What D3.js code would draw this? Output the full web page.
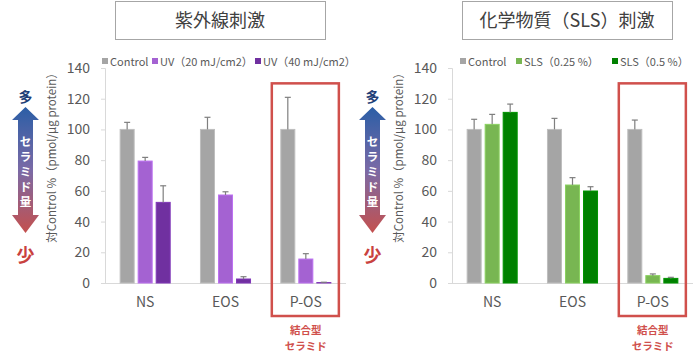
<!DOCTYPE html>
<html>
<head>
<meta charset="utf-8">
<script src="https://cdn.jsdelivr.net/npm/d3@7"></script>
<style>
body{margin:0;background:#fff;}
svg{display:block;font-family:"Noto Sans CJK JP","Noto Sans",sans-serif;}
</style>
</head>
<body>
<div id="chart"></div>
<script>
var w = 700;
var h = 361;

// data
var categories = ["NS", "EOS", "P-OS"];
var yTicks = [0, 20, 40, 60, 80, 100, 120, 140];

var uvSeries = ["Control", "UV（20 mJ/cm2）", "UV（40 mJ/cm2）"];
var uvValues = [[100, 100, 100], [79.4, 57.3, 15.6], [52.5, 2.6, 0.3]];
var uvErrors = [[4.6, 7.9, 20.9], [2.4, 2.1, 3.5], [10.8, 1.5, 0.2]];

var slsSeries = ["Control", "SLS（0.25 %）", "SLS（0.5 %）"];
var slsValues = [[100, 100, 100], [103.3, 63.8, 4.8], [111.1, 59.9, 3.0]];
var slsErrors = [[6.6, 7.2, 6.1], [6.5, 4.8, 1.1], [5.4, 2.8, 0.7]];

var uvColors = ["#a5a5a5", "#a462d2", "#7030a0"];
var slsColors = ["#a5a5a5", "#78b652", "#008000"];

var arrowChars = ["セ", "ラ", "ミ", "ド", "量"];

var svg = d3.select("#chart").append("svg")
  .attr("width", w)
  .attr("height", h);

var defs = svg.append("defs");
var grad = defs.append("linearGradient")
  .attr("id", "arrowGrad")
  .attr("x1", 0).attr("y1", 0).attr("x2", 0).attr("y2", 1);
grad.append("stop").attr("offset", "0%").attr("stop-color", "#2b5ea6");
grad.append("stop").attr("offset", "50%").attr("stop-color", "#7a6aa6");
grad.append("stop").attr("offset", "100%").attr("stop-color", "#c4504e");

function drawPanel(offsetX, title, series, values, errors, colors, legendX){
  var g = svg.append("g").attr("transform", "translate(" + offsetX + ",0)");

  // title box
  g.append("rect")
    .attr("x", 115.5).attr("y", 1.5)
    .attr("width", 210).attr("height", 38)
    .attr("fill", "#fff")
    .attr("stroke", "#a6a6a6");
  g.append("text")
    .attr("x", 220).attr("y", 27)
    .attr("text-anchor", "middle")
    .attr("font-size", 18)
    .attr("fill", "#404040")
    .text(title);

  var yScale = d3.scaleLinear().domain([0, 140]).range([283, 68]);
  var x0 = d3.scaleBand().domain(categories).range([105, 346])
    .paddingInner(0.377).paddingOuter(0.1885);
  var x1 = d3.scaleBand().domain(series).range([0, x0.bandwidth()])
    .paddingInner(0.2222);

  // y axis
  var yAxis = g.append("g")
    .attr("transform", "translate(105,0)")
    .call(d3.axisLeft(yScale).tickValues(yTicks).tickSize(4).tickPadding(11));
  yAxis.select(".domain").attr("stroke", "#d9d9d9");
  yAxis.selectAll(".tick line").attr("stroke", "#d9d9d9");
  yAxis.selectAll(".tick text")
    .attr("fill", "#595959")
    .attr("font-size", 14)
    .attr("font-family", "'Noto Sans CJK JP','Noto Sans',sans-serif");

  // x axis line
  g.append("line")
    .attr("x1", 101).attr("x2", 346)
    .attr("y1", yScale(0) + 0.5).attr("y2", yScale(0) + 0.5)
    .attr("stroke", "#d9d9d9");

  // category labels
  g.selectAll(".cat").data(categories).enter().append("text")
    .attr("class", "cat")
    .attr("x", function(d){ return x0(d) + x0.bandwidth()/2; })
    .attr("y", 307)
    .attr("text-anchor", "middle")
    .attr("font-size", 14)
    .attr("fill", "#595959")
    .text(function(d){ return d; });

  // bars
  series.forEach(function(s, si){
    var sg = g.append("g");
    var pts = categories.map(function(c, ci){
      return {cat: c, v: values[si][ci], e: errors[si][ci]};
    });
    sg.selectAll("rect").data(pts).enter().append("rect")
      .attr("x", function(d){ return x0(d.cat) + x1(s); })
      .attr("y", function(d){ return yScale(d.v); })
      .attr("width", x1.bandwidth())
      .attr("height", function(d){ return yScale(0) - yScale(d.v); })
      .attr("fill", colors[si])
      .attr("stroke", d3.color(colors[si]).brighter(0.4))
      .attr("stroke-width", 1);
    var eb = sg.selectAll(".err").data(pts).enter().append("g").attr("class", "err");
    eb.append("line")
      .attr("x1", function(d){ return x0(d.cat) + x1(s) + x1.bandwidth()/2; })
      .attr("x2", function(d){ return x0(d.cat) + x1(s) + x1.bandwidth()/2; })
      .attr("y1", function(d){ return yScale(d.v); })
      .attr("y2", function(d){ return yScale(d.v + d.e); })
      .attr("stroke", "#7f7f7f").attr("stroke-width", 1.2);
    eb.append("line")
      .attr("x1", function(d){ return x0(d.cat) + x1(s) + x1.bandwidth()/2 - 3; })
      .attr("x2", function(d){ return x0(d.cat) + x1(s) + x1.bandwidth()/2 + 3; })
      .attr("y1", function(d){ return yScale(d.v + d.e); })
      .attr("y2", function(d){ return yScale(d.v + d.e); })
      .attr("stroke", "#7f7f7f").attr("stroke-width", 1.2);
  });

  // legend
  series.forEach(function(s, si){
    g.append("rect")
      .attr("x", legendX[si]).attr("y", 58)
      .attr("width", 6).attr("height", 6)
      .attr("fill", colors[si]);
    g.append("text")
      .attr("x", legendX[si] + 8).attr("y", 65.5)
      .attr("font-size", 11)
      .attr("fill", "#595959")
      .text(s);
  });

  // y label
  g.append("text")
    .attr("transform", "translate(56,155) rotate(-90)")
    .attr("text-anchor", "middle")
    .attr("font-size", 11.5)
    .attr("fill", "#595959")
    .text("対Control %（pmol/μg protein）");

  // highlight box around P-OS
  var bx = x0("P-OS");
  g.append("rect")
    .attr("x", bx - 9).attr("y", yScale(130))
    .attr("width", x0.bandwidth() + 17)
    .attr("height", 316 - yScale(130))
    .attr("fill", "none")
    .attr("stroke", "#d0504c")
    .attr("stroke-width", 2.5);
  g.append("text")
    .attr("x", bx + x0.bandwidth()/2).attr("y", 334)
    .attr("text-anchor", "middle")
    .attr("font-size", 10.5).attr("font-weight", "bold")
    .attr("fill", "#d0504c")
    .text("結合型");
  g.append("text")
    .attr("x", bx + x0.bandwidth()/2).attr("y", 350)
    .attr("text-anchor", "middle")
    .attr("font-size", 10.5).attr("font-weight", "bold")
    .attr("fill", "#d0504c")
    .text("セラミド");

  // ceramide amount arrow
  var cx = 25.5;
  var arrow = [
    [cx, 107], [cx + 13.5, 120], [cx + 7.5, 120], [cx + 7.5, 215], [cx + 13.5, 215],
    [cx, 233], [cx - 13.5, 215], [cx - 7.5, 215], [cx - 7.5, 120], [cx - 13.5, 120]
  ];
  g.append("path")
    .attr("d", d3.line()(arrow) + "Z")
    .attr("fill", "url(#arrowGrad)");
  var vt = g.append("text")
    .attr("text-anchor", "middle")
    .attr("font-size", 11.5).attr("font-weight", "bold")
    .attr("fill", "#fff");
  arrowChars.forEach(function(c, i){
    vt.append("tspan")
      .attr("x", cx).attr("y", 146 + i * 15)
      .text(c);
  });
  g.append("text")
    .attr("x", cx).attr("y", 102)
    .attr("text-anchor", "middle")
    .attr("font-size", 14).attr("font-weight", "bold")
    .attr("fill", "#1f3f78")
    .text("多");
  g.append("text")
    .attr("x", cx).attr("y", 262)
    .attr("text-anchor", "middle")
    .attr("font-size", 18).attr("font-weight", "bold")
    .attr("fill", "#c9423f")
    .text("少");
}

drawPanel(0, "紫外線刺激", uvSeries, uvValues, uvErrors, uvColors, [102, 152, 255]);
drawPanel(347, "化学物質（SLS）刺激", slsSeries, slsValues, slsErrors, slsColors, [113, 169, 265]);
</script>
</body>
</html>
